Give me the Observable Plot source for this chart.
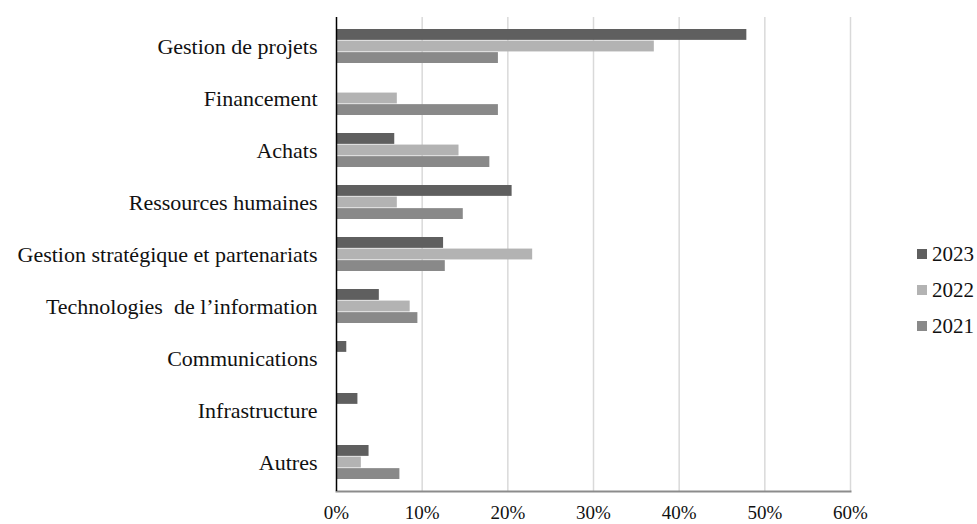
<!DOCTYPE html>
<html lang="fr">
<head>
<meta charset="utf-8">
<script src="https://cdn.jsdelivr.net/npm/d3@7"></script>
<script src="https://cdn.jsdelivr.net/npm/@observablehq/plot@0.6"></script>
<style>
  html, body { margin: 0; padding: 0; background: #fff; }
  #chart { position: relative; width: 977px; height: 524px; font-family: "Liberation Serif", "DejaVu Serif", serif; }
  #chart svg text { font-family: "Liberation Serif", "DejaVu Serif", serif; }
  #legend { position: absolute; left: 917px; top: 236px; font-size: 21px; color: #111; font-family: "Liberation Serif", "DejaVu Serif", serif; }
  #legend .item { display: flex; align-items: center; height: 36px; }
  #legend .sw { width: 10px; height: 10px; margin-right: 5px; }
</style>
</head>
<body>
<div id="chart"></div>
<script>
// Domaines (catégories), de haut en bas
const categories = [
  "Gestion de projets",
  "Financement",
  "Achats",
  "Ressources humaines",
  "Gestion stratégique et partenariats",
  "Technologies  de l’information",
  "Communications",
  "Infrastructure",
  "Autres"
];

// Séries, dans l'ordre d'affichage au sein de chaque groupe
const years = ["2023", "2022", "2021"];
const colors = ["#5f5f5f", "#b3b3b3", "#898989"];

// Parts (%) par année ; null = aucune valeur
const values2023 = [47.9, null, 6.8, 20.5, 12.5, 5.0, 1.2, 2.5, 3.8];
const values2022 = [37.1, 7.1, 14.3, 7.1, 22.9, 8.6, null, null, 2.9];
const values2021 = [18.9, 18.9, 17.9, 14.8, 12.7, 9.5, null, null, 7.4];

const xTicks = [0, 10, 20, 30, 40, 50, 60];

const seriesValues = [values2023, values2022, values2021];

// Dimensions du graphique
const width = 977, height = 524;
const marginTop = 17, marginBottom = 33, marginLeft = 336, marginRight = 127;
const paddingInner = 0.342, paddingOuter = 0.165;
const step = (height - marginTop - marginBottom) / (categories.length - paddingInner + 2 * paddingOuter);
const band = step * (1 - paddingInner);
const barH = band / years.length;

// Une marque barX par année, décalée dans la bande de sa catégorie
const barMarks = years.map((year, k) => {
  const rows = categories
    .map((c, i) => ({category: c, value: seriesValues[k][i]}))
    .filter(d => d.value != null);
  return Plot.barX(rows, {
    x: "value",
    y: "category",
    fill: colors[k],
    insetTop: k * barH,
    insetBottom: (years.length - 1 - k) * barH
  });
});

const serif = '"Liberation Serif", "DejaVu Serif", serif';

const svg = Plot.plot({
  width, height, marginTop, marginBottom, marginLeft, marginRight,
  style: {fontFamily: serif, fontSize: "21px", color: "#111", background: "#fff"},
  x: {domain: [0, 60]},
  y: {domain: categories, paddingInner, paddingOuter},
  marks: [
    Plot.ruleX(xTicks.filter(d => d > 0), {stroke: "#d9d9d9", strokeWidth: 1.5}),
    ...barMarks,
    Plot.frame({anchor: "bottom", stroke: "#8c8c8c", strokeWidth: 2}),
    Plot.ruleX([0], {stroke: "#000", strokeWidth: 1.5}),
    Plot.axisX({ticks: xTicks, tickSize: 0, tickPadding: 14, tickFormat: d => d + "%", label: null, fontSize: 19}),
    Plot.axisY({tickSize: 0, tickPadding: 19, label: null, fontSize: 22})
  ]
});

const chart = document.getElementById("chart");
chart.appendChild(svg);

// Légende des années
const legend = document.createElement("div");
legend.id = "legend";
years.forEach((y, k) => {
  const item = document.createElement("div");
  item.className = "item";
  const sw = document.createElement("span");
  sw.className = "sw";
  sw.style.background = colors[k];
  const label = document.createElement("span");
  label.textContent = y;
  item.append(sw, label);
  legend.appendChild(item);
});
chart.appendChild(legend);
</script>
</body>
</html>
